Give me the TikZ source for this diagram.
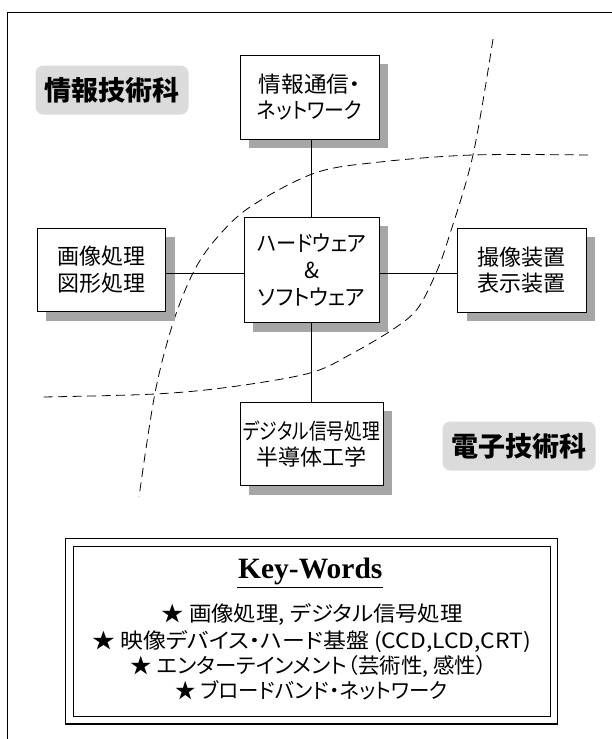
\documentclass[tikz,border=0pt]{standalone}
\usepackage{graphicx}
\usepackage{fontspec}
\newfontfamily\jp[RawFeature=+palt]{Noto Sans CJK JP}
\newfontfamily\jpb{Noto Sans CJK JP}
\newfontfamily\tnr{Liberation Serif}
\usetikzlibrary{shadows,backgrounds}
\newcommand{\fitw}[2]{\resizebox{#1}{\height}{#2}}
\tikzset{
  box/.style={draw, fill=white, line width=0.9pt, align=center, inner sep=0pt,
    font=\jp\fontsize{22}{26.7}\selectfont,
    drop shadow={shadow xshift=9pt, shadow yshift=-9pt, fill=black!35, opacity=1}},
  lab/.style={fill=black!14, rounded corners=8pt, minimum width=153pt, minimum height=49pt,
    inner sep=0pt, font=\jpb\bfseries\fontsize{27}{27}\selectfont},
  halo/.style={fill=black!14, opacity=.35, rounded corners=11pt},
  conn/.style={line width=0.9pt},
  curve/.style={line width=0.8pt, dash pattern=on 9pt off 5.5pt},
  kwline/.style={font=\jp\fontsize{21}{25}\selectfont, inner sep=0pt}
}
\begin{document}
\begin{tikzpicture}[x=1pt,y=-1pt]
\useasboundingbox (0,0) rectangle (611,739);
\fill[white] (0,0) rectangle (611,739);
% frame
\draw[line width=1pt] (7,760) -- (7,12) -- (640,12);
% dashed boundaries
\draw[curve] plot[smooth, tension=0.55] coordinates {(493,39) (473,155) (448,240) (436,273) (418,308) (395,328) (353,353) (310,373) (230,387) (155,394) (43,397)};
\draw[curve] plot[smooth, tension=0.55] coordinates {(588,155) (473,155) (380,162) (315,173) (250,207) (215,240) (193,273) (173,323) (155,393) (139,497)};
% boxes
\node[box, minimum width=139pt, minimum height=84pt] (top) at (309.8,97) {\fitw{102pt}{情報通信・}\\\fitw{105pt}{ネットワーク}};
\node[box, minimum width=135pt, minimum height=105.4pt] (hw) at (311.8,270) {\fitw{109pt}{ハードウェア}\\\&\\\fitw{107pt}{ソフトウェア}};
\node[box, minimum width=128.7pt, minimum height=83.4pt] (left) at (101.35,270) {画像処理\\図形処理};
\node[box, minimum width=128.3pt, minimum height=84pt] (right) at (521.85,270.3) {撮像装置\\表示装置};
\node[box, minimum width=143pt, minimum height=83.4pt] (bot) at (311.8,444) {\fitw{137pt}{デジタル信号処理}\\半導体工学};
% connectors
\draw[conn] (hw.north) -- (hw.north |- top.south);
\draw[conn] (hw.south) -- (hw.south |- bot.north);
\draw[conn] ([yshift=-3pt]hw.west) -- ([yshift=-3pt]hw.west -| left.east);
\draw[conn] ([yshift=-3pt]hw.east) -- ([yshift=-3pt]hw.east -| right.west);
% labels
\node[lab] (l1) at (112,90) {情報技術科};
\node[lab] (l2) at (519,446) {電子技術科};
\begin{scope}[on background layer]
  \foreach \n in {l1,l2}{
    \fill[halo] ([xshift=-2.5pt,yshift=2pt]\n.north west) rectangle ([xshift=2.5pt,yshift=-3pt]\n.south east);
    \fill[halo] ([xshift=-1.2pt,yshift=1pt]\n.north west) rectangle ([xshift=1.2pt,yshift=-1.5pt]\n.south east);
  }
\end{scope}
% key words
\draw[line width=1.2pt] (65.7,538.3) rectangle (557.7,724);
\draw[line width=1pt] (73.3,546) rectangle (550,716.7);
\node[font=\tnr\bfseries\fontsize{29.5}{30}\selectfont, anchor=base, inner xsep=0.5pt, inner ysep=0pt] (kwt) at (310.3,578.3) {Key-Words};
\draw[line width=1.3pt] ([yshift=-9pt]kwt.base west) -- ([yshift=-9pt]kwt.base east);
\node[kwline] (k1) at (312.2,615) {\fitw{301pt}{★ 画像処理, デジタル信号処理}};
\node[kwline] (k2) at (311.7,641.7) {\fitw{439pt}{★ 映像デバイス・ハード基盤 (CCD,LCD,CRT)}};
\node[kwline] (k3) at (308.8,666.7) {\fitw{356pt}{★ エンターテインメント（芸術性, 感性）}};
\node[kwline] (k4) at (311.7,690.7) {\fitw{272pt}{★ ブロードバンド・ネットワーク}};
\end{tikzpicture}
\end{document}
